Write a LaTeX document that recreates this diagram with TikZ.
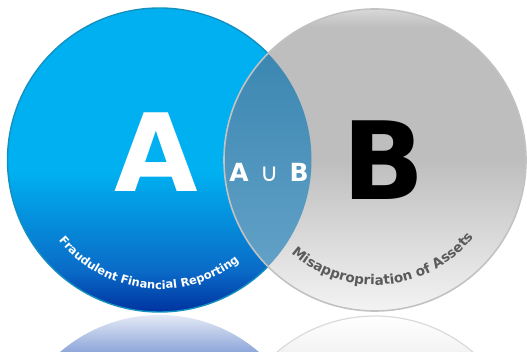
\documentclass[tikz,border=0pt]{standalone}
\usepackage{fontspec}
\setmainfont{DejaVu Sans}
\usetikzlibrary{decorations.text}

\definecolor{skyA}{HTML}{00B0F0}
\definecolor{midA}{HTML}{0A6CC8}
\definecolor{deepA}{HTML}{0033A0}
\definecolor{rimA}{HTML}{1490C0}
\definecolor{topB}{HTML}{D8D8D8}
\definecolor{greyB}{HTML}{BEBEBE}
\definecolor{lightB}{HTML}{DCDCDC}
\definecolor{paleB}{HTML}{F3F3F3}
\definecolor{rimB}{HTML}{C2C2C2}
\definecolor{capB}{HTML}{5A5A5A}
\definecolor{lensTop}{HTML}{3382AD}
\definecolor{lensBot}{HTML}{6AA6CC}
\definecolor{mirA}{HTML}{90A8DA}
\definecolor{mirB}{HTML}{DADADA}

\pgfdeclareverticalshading{ballA}{100bp}{color(0bp)=(deepA); color(25bp)=(deepA); color(32bp)=(midA); color(48bp)=(skyA); color(100bp)=(skyA)}
\pgfdeclareverticalshading{ballB}{100bp}{color(0bp)=(paleB); color(25bp)=(paleB); color(36bp)=(lightB); color(50bp)=(greyB); color(72bp)=(greyB); color(75bp)=(topB); color(100bp)=(topB)}

\begin{document}
\begin{tikzpicture}[x=1pt, y=1pt,
    bigletter/.style={inner sep=0pt, anchor=base, font=\fontsize{108}{110}\selectfont\bfseries},
    arclabel/.style={decorate, decoration={text along path, text align=center, text color=#1}}]
\useasboundingbox (0,0) rectangle (527,351);
\coordinate (cA) at (159.5,191);
\coordinate (cB) at (375,191);
\coordinate (mA) at (159.5,-116);
\coordinate (mB) at (375,-116);

% mirror images on the floor
\begin{scope}
  \clip (0,0) rectangle (527,36);
  \begin{scope}
    \clip (mA) circle (152);
    \shade[top color=white!75!mirA, bottom color=mirA] (0,0) rectangle (527,36);
  \end{scope}
  \begin{scope}
    \clip (mB) circle (151);
    \shade[top color=white, bottom color=paleB] (200,0) rectangle (527,36);
  \end{scope}
  \draw[mirB, line width=1.2pt] (mB) circle (151);
\end{scope}

% the two sets
\shade[shading=ballA] (cA) circle (152);
\draw[rimA, line width=1.4pt] (cA) circle (152);
\shade[shading=ballB] (cB) circle (151);
\begin{scope}
  \clip (cA) circle (152);
  \shade[top color=lensTop, bottom color=lensBot] (cB) circle (151);
\end{scope}
\draw[rimB, line width=1.6pt] (cB) circle (151);

\node[bigletter, white] (labA) at (156,159) {A};
\node[bigletter, black] (labB) at (384,151) {B};
\node[inner sep=0pt, anchor=base, white, font=\fontsize{25}{26}\selectfont\bfseries] (labAB) at (269,169)
  {A\hspace{0.45em}{\mdseries ∪}\hspace{0.45em}B};

\path[arclabel=white, decoration={text={|\fontsize{11.5}{12}\selectfont\bfseries|Fraudulent Financial Reporting}}]
  ([shift={(200:129)}]cA) arc[start angle=200, end angle=327, radius=129];
\path[arclabel=capB, decoration={text={|\fontsize{13.5}{14}\selectfont\bfseries|Misappropriation of Assets}}]
  ([shift={(210:125)}]cB) arc[start angle=210, end angle=340, radius=125];
\end{tikzpicture}
\end{document}
